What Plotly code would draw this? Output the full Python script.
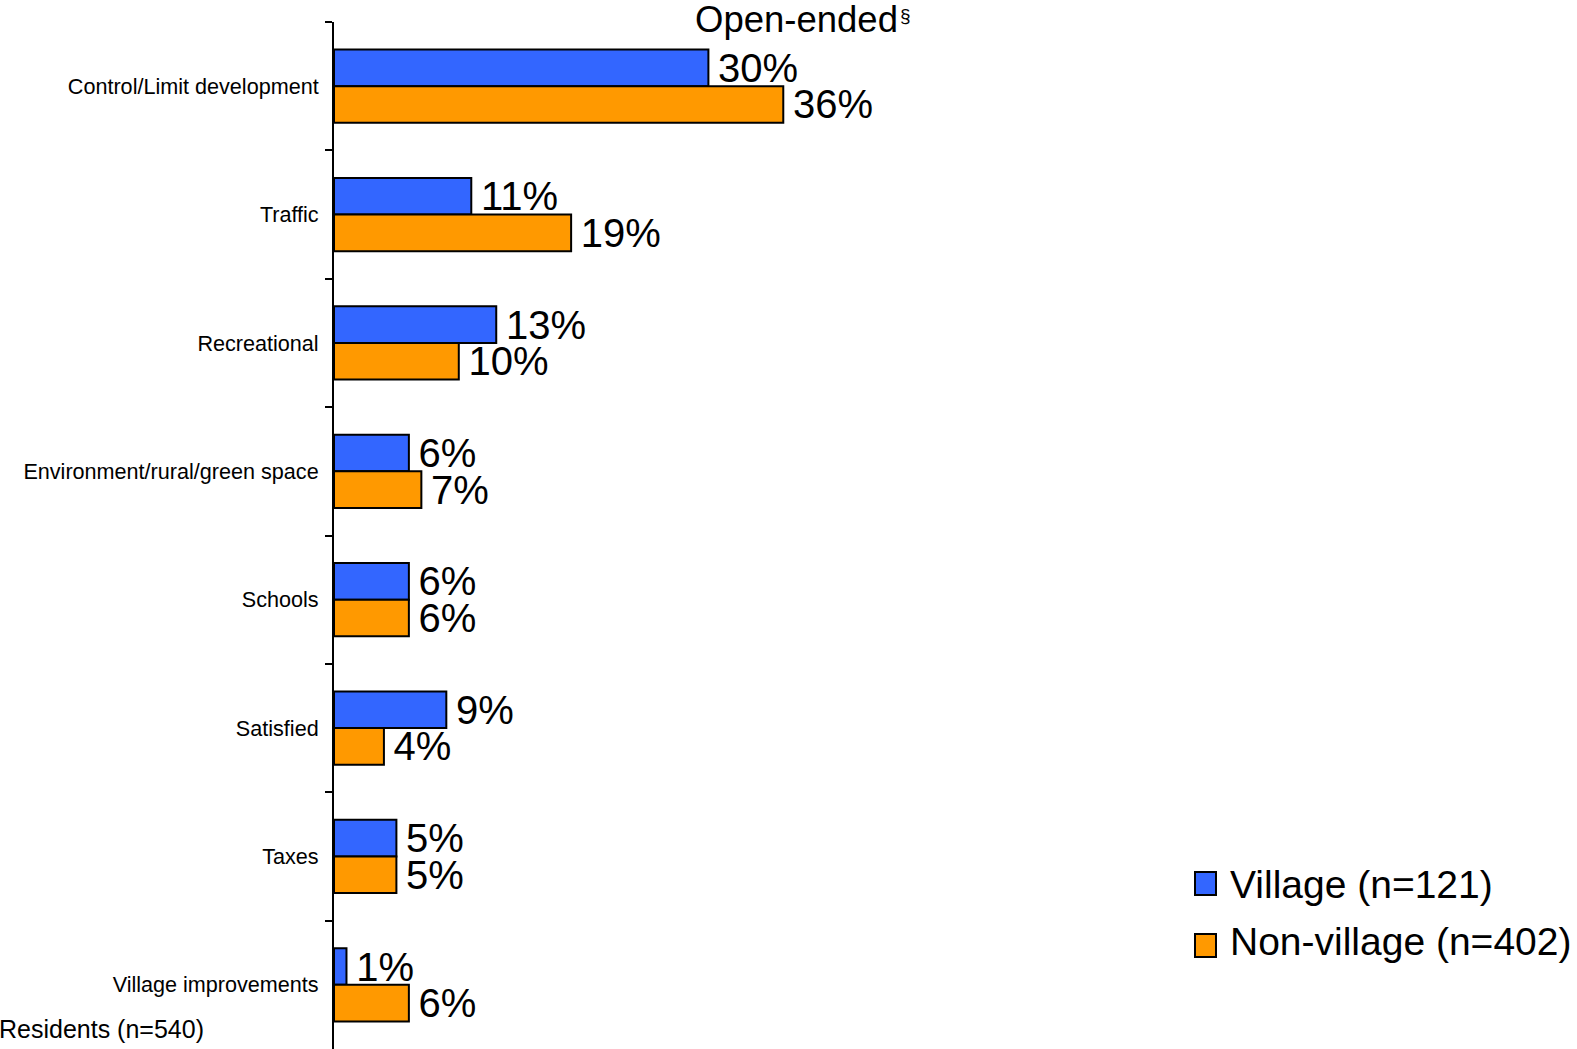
#!/usr/bin/env python3
'''Open-ended concerns, village vs non-village residents.'''

import plotly.graph_objs as go

categories = ['Control/Limit development', 'Traffic', 'Recreational',
              'Environment/rural/green space', 'Schools', 'Satisfied',
              'Taxes', 'Village improvements']
village = [30, 11, 13, 6, 6, 9, 5, 1]
non_village = [36, 19, 10, 7, 6, 4, 5, 6]
series_names = ['Village (n=121)', 'Non-village (n=402)']
colors = ['#3366FF', '#FF9900']

W, H = 1577, 1049
L, R, T, B = 334, 0, 22, 0
pw = W - L - R
ph = H - T - B
px_per_pct = 12.48
font = 'Liberation Sans, Arial, sans-serif'


def px_x(p):
    return (p - L) / pw


def px_y(p):
    return 1 - (p - T) / ph


data = []
for name, vals, col in zip(series_names, [village, non_village], colors):
    data.append(go.Bar(
        name=name, y=categories, x=vals, orientation='h',
        marker=dict(color=col, line=dict(color='black', width=2)),
        texttemplate='\u2006%{x}%', textposition='outside',
        textfont=dict(size=40, color='black', family=font),
        constraintext='none', cliponaxis=False, showlegend=False,
    ))

# hand-drawn legend, so the swatches can be as big as in the original
shapes = []
annotations = []
swatch_y = [883.5, 945.5]
text_y = [884, 941]
for name, col, sy, ty in zip(series_names, colors, swatch_y, text_y):
    shapes.append(dict(type='rect', xref='paper', yref='paper',
                       x0=px_x(1195), x1=px_x(1216),
                       y0=px_y(sy - 11.5), y1=px_y(sy + 11.5),
                       fillcolor=col, line=dict(color='black', width=2)))
    annotations.append(dict(text=name, xref='paper', yref='paper',
                            x=px_x(1228), y=px_y(ty), xanchor='left',
                            yanchor='middle', showarrow=False,
                            font=dict(size=39, family=font)))

annotations += [
    dict(text='Open-ended', xref='paper', yref='paper',
         x=px_x(693), y=px_y(19), xanchor='left', yanchor='middle',
         showarrow=False, font=dict(size=36.5, family=font)),
    dict(text='§', xref='paper', yref='paper',
         x=px_x(898), y=px_y(15), xanchor='left', yanchor='middle',
         showarrow=False, font=dict(size=19, family=font)),
    dict(text='Residents (n=540)', xref='paper', yref='paper',
         x=px_x(206), y=px_y(1029), xanchor='right', yanchor='middle',
         showarrow=False, font=dict(size=25, family=font)),
]

layout = go.Layout(
    width=W, height=H,
    margin=dict(l=L, r=R, t=T, b=B),
    paper_bgcolor='white', plot_bgcolor='white',
    barmode='group', bargap=0.43, bargroupgap=0,
    font=dict(family=font, color='black'),
    xaxis=dict(visible=False, range=[0, pw / px_per_pct], automargin=False),
    yaxis=dict(autorange='reversed', showline=True, linecolor='black',
               linewidth=2, ticks='outside', ticklen=7, tickwidth=2,
               tickcolor='black', tickson='boundaries', showgrid=False,
               tickfont=dict(size=21.6, family=font), ticklabelstandoff=9,
               automargin=False),
    shapes=shapes,
    annotations=annotations,
)

fig = go.Figure(data=data, layout=layout)
# the page body has an 8px margin by default; drop it so the chart sits at 0,0
fig.write_html('out.html', config={'displayModeBar': False},
               post_script="document.body.style.margin='0';")
